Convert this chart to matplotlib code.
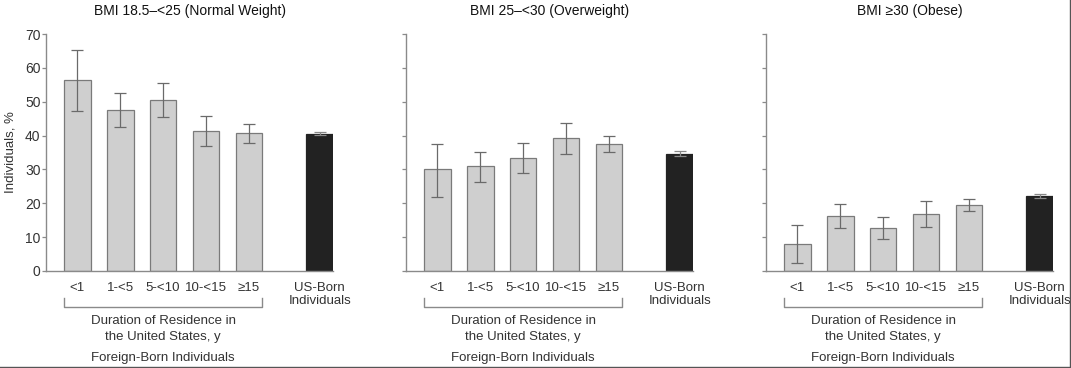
import numpy as np
import matplotlib
matplotlib.use('Agg')
from matplotlib import pyplot as plt

plt.rcParams['font.family'] = ['Liberation Sans', 'DejaVu Sans']

# data
durations = ['<1', '1-<5', '5-<10', '10-<15', '≥15']
us_label = 'US-Born\nIndividuals'
titles = ['BMI 18.5–<25 (Normal Weight)', 'BMI 25–<30 (Overweight)', 'BMI ≥30 (Obese)']

normal_val = [56.3, 47.7, 50.6, 41.3, 40.8]
normal_lo = [47.2, 42.6, 45.5, 36.9, 37.9]
normal_hi = [65.4, 52.6, 55.6, 45.9, 43.5]
normal_us = [40.6, 40.2, 41.0]

over_val = [30.0, 31.0, 33.5, 39.4, 37.5]
over_lo = [21.9, 26.2, 28.9, 34.6, 35.1]
over_hi = [37.5, 35.2, 37.9, 43.6, 39.8]
over_us = [34.7, 34.1, 35.4]

obese_val = [8.0, 16.3, 12.6, 16.9, 19.4]
obese_lo = [2.3, 12.6, 9.4, 13.0, 17.6]
obese_hi = [13.5, 19.9, 15.9, 20.6, 21.2]
obese_us = [22.2, 21.6, 22.8]

panels = [
    (normal_val, normal_lo, normal_hi, normal_us),
    (over_val, over_lo, over_hi, over_us),
    (obese_val, obese_lo, obese_hi, obese_us),
]

W, H = 1071, 368
fig = plt.figure(figsize=(W / 100, H / 100), dpi=100)

axis_grey = '#8a8a8a'
text_col = '#333333'
lefts = [46, 406, 766]
ax_w = 287
bottom_px, top_px = 271, 34
us_pos = 5.65
bw = 0.62

for i, (vals, lo, hi, us) in enumerate(panels):
    ax = fig.add_axes([lefts[i] / W, 1 - bottom_px / H, ax_w / W, (bottom_px - top_px) / H])
    x = np.arange(len(durations))
    vals = np.array(vals)
    yerr = np.array([vals - np.array(lo), np.array(hi) - vals])
    ax.bar(x, vals, width=bw, color='#cfcfcf', edgecolor='#7a7a7a', linewidth=0.9,
           yerr=yerr, error_kw=dict(ecolor='#6a6a6a', elinewidth=0.9, capsize=4, capthick=0.9))
    ax.bar([us_pos], [us[0]], width=bw, color='#222222', edgecolor='#222222', linewidth=0.9,
           yerr=[[us[0] - us[1]], [us[2] - us[0]]],
           error_kw=dict(ecolor='#888888', elinewidth=0.9, capsize=4, capthick=0.9))
    ax.set_xlim(-0.73, us_pos + bw / 2)
    ax.set_ylim(0, 70)
    ax.set_yticks(range(0, 71, 10))
    for s in ['top', 'right']:
        ax.spines[s].set_visible(False)
    for s in ['left', 'bottom']:
        ax.spines[s].set_color(axis_grey)
        ax.spines[s].set_linewidth(1.0)
    ax.tick_params(axis='y', length=3, width=0.9, color=axis_grey, labelsize=10,
                   labelcolor=text_col, pad=1)
    if i > 0:
        ax.tick_params(axis='y', labelleft=False)
    else:
        ax.set_ylabel('Individuals, %', fontsize=9.5, color=text_col, labelpad=6)
    ax.set_xticks(list(x) + [us_pos])
    ax.set_xticklabels(durations + [us_label], fontsize=9.5, color=text_col,
                       linespacing=1.1, va='top')
    ax.tick_params(axis='x', length=0, pad=8)
    ax.set_title(titles[i], fontsize=10, color='#111111', pad=14)

    # bracket under the duration groups
    tr = ax.get_xaxis_transform()
    y_top, y_bot = -27 / 237, -36 / 237
    ax.plot([x[0] - bw / 2, x[0] - bw / 2, x[-1] + bw / 2, x[-1] + bw / 2],
            [y_top, y_bot, y_bot, y_top], color=axis_grey, lw=1.0,
            transform=tr, clip_on=False)
    mid = (x[0] + x[-1]) / 2
    ax.text(mid, -44 / 237, 'Duration of Residence in\nthe United States, y',
            transform=tr, ha='center', va='top', fontsize=9.5, color=text_col,
            linespacing=1.45)
    ax.text(mid, -81 / 237, 'Foreign-Born Individuals', transform=tr,
            ha='center', va='top', fontsize=9.5, color=text_col)

# thin frame line at bottom and right edge of the image
fig.add_artist(plt.Line2D([0, 1 - 1.5 / W], [1.5 / H, 1.5 / H], color='#555555', lw=1.0))
fig.add_artist(plt.Line2D([1 - 1.5 / W, 1 - 1.5 / W], [1.5 / H, 1], color='#555555', lw=1.0))

fig.savefig('out.png', dpi=100)
